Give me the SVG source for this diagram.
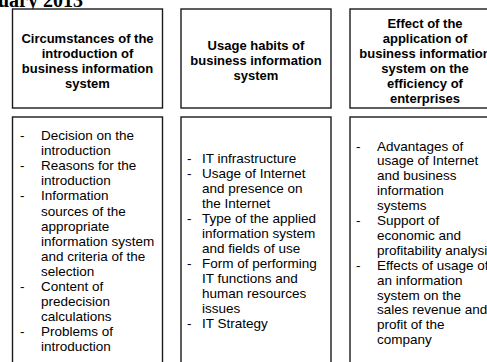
<svg xmlns="http://www.w3.org/2000/svg" width="487" height="362" viewBox="0 0 487 362">
<style>
.box{fill:#fff;stroke:#1a1a1a;stroke-width:1.4}
.h{font-family:"Liberation Sans",Arial,sans-serif;font-weight:bold;font-size:13px;text-anchor:middle;fill:#000}
.b{font-family:"Liberation Sans",Arial,sans-serif;font-size:13.5px;fill:#000}
.t{font-family:"Liberation Serif","Times New Roman",serif;font-weight:bold;font-size:20px;fill:#000}
</style>
<rect width="487" height="362" fill="#fff"/>
<text class="t" x="-2" y="7">uary 2013</text>
<g id="connectors"/>
<g id="head1">
<rect class="box" x="12.5" y="9" width="150" height="99"/>
<text class="h"><tspan x="87.5" y="43">Circumstances of the</tspan><tspan x="87.5" y="58">introduction of</tspan><tspan x="87.5" y="73">business information</tspan><tspan x="87.5" y="88">system</tspan></text>
</g>
<g id="head2">
<rect class="box" x="181" y="9" width="150" height="99"/>
<text class="h"><tspan x="256" y="50">Usage habits of</tspan><tspan x="256" y="65">business information</tspan><tspan x="256" y="80">system</tspan></text>
</g>
<g id="head3">
<rect class="box" x="350" y="9" width="150" height="99"/>
<text class="h"><tspan x="425" y="28">Effect of the</tspan><tspan x="425" y="43">application of</tspan><tspan x="425" y="58">business information</tspan><tspan x="425" y="73">system on the</tspan><tspan x="425" y="88">efficiency of</tspan><tspan x="425" y="103">enterprises</tspan></text>
</g>
<g id="body1">
<rect class="box" x="12.5" y="117" width="150" height="260"/>
<text class="b"><tspan x="20" y="140">-</tspan><tspan x="20" y="170.2">-</tspan><tspan x="20" y="200.4">-</tspan><tspan x="20" y="291">-</tspan><tspan x="20" y="336.3">-</tspan></text>
<text class="b"><tspan x="41" y="140">Decision on the</tspan><tspan x="41" dy="15.1">introduction</tspan><tspan x="41" dy="15.1">Reasons for the</tspan><tspan x="41" dy="15.1">introduction</tspan><tspan x="41" dy="15.1">Information</tspan><tspan x="41" dy="15.1">sources of the</tspan><tspan x="41" dy="15.1">appropriate</tspan><tspan x="41" dy="15.1">information system</tspan><tspan x="41" dy="15.1">and criteria of the</tspan><tspan x="41" dy="15.1">selection</tspan><tspan x="41" dy="15.1">Content of</tspan><tspan x="41" dy="15.1">predecision</tspan><tspan x="41" dy="15.1">calculations</tspan><tspan x="41" dy="15.1">Problems of</tspan><tspan x="41" dy="15.1">introduction</tspan></text>
</g>
<g id="body2">
<rect class="box" x="181" y="117" width="150" height="260"/>
<text class="b"><tspan x="187" y="162.5">-</tspan><tspan x="187" y="177.5">-</tspan><tspan x="187" y="222.5">-</tspan><tspan x="187" y="267.5">-</tspan><tspan x="187" y="327.5">-</tspan></text>
<text class="b"><tspan x="202" y="162.5">IT infrastructure</tspan><tspan x="202" dy="15">Usage of Internet</tspan><tspan x="202" dy="15">and presence on</tspan><tspan x="202" dy="15">the Internet</tspan><tspan x="202" dy="15">Type of the applied</tspan><tspan x="202" dy="15">information system</tspan><tspan x="202" dy="15">and fields of use</tspan><tspan x="202" dy="15">Form of performing</tspan><tspan x="202" dy="15">IT functions and</tspan><tspan x="202" dy="15">human resources</tspan><tspan x="202" dy="15">issues</tspan><tspan x="202" dy="15">IT Strategy</tspan></text>
</g>
<g id="body3">
<rect class="box" x="350" y="117" width="150" height="260"/>
<text class="b"><tspan x="356" y="150.5">-</tspan><tspan x="356" y="225">-</tspan><tspan x="356" y="269.7">-</tspan></text>
<text class="b"><tspan x="377" y="150.5">Advantages of</tspan><tspan x="377" dy="14.9">usage of Internet</tspan><tspan x="377" dy="14.9">and business</tspan><tspan x="377" dy="14.9">information</tspan><tspan x="377" dy="14.9">systems</tspan><tspan x="377" dy="14.9">Support of</tspan><tspan x="377" dy="14.9">economic and</tspan><tspan x="377" dy="14.9">profitability analysis</tspan><tspan x="377" dy="14.9">Effects of usage of</tspan><tspan x="377" dy="14.9">an information</tspan><tspan x="377" dy="14.9">system on the</tspan><tspan x="377" dy="14.9">sales revenue and</tspan><tspan x="377" dy="14.9">profit of the</tspan><tspan x="377" dy="14.9">company</tspan></text>
</g>
</svg>
